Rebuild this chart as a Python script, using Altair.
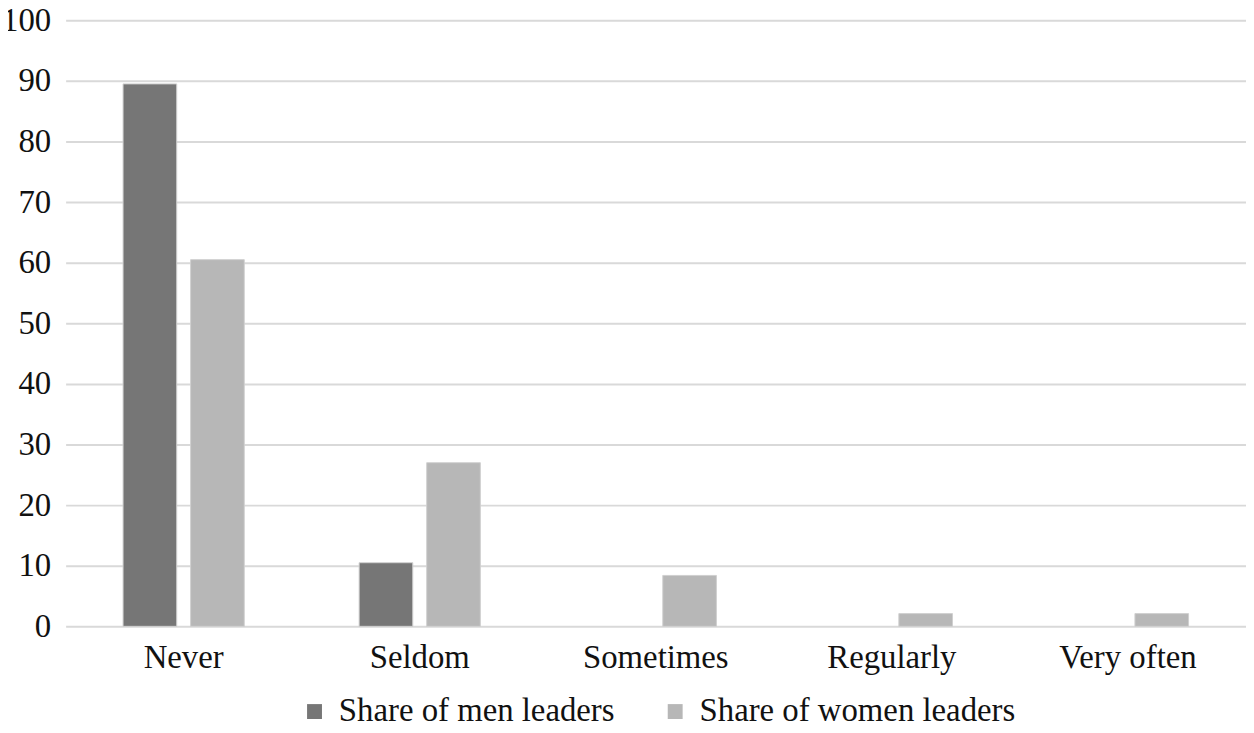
import altair as alt
import pandas as pd

categories = ["Never", "Seldom", "Sometimes", "Regularly", "Very often"]
men = [89.5, 10.5, 0, 0, 0]
women = [60.5, 27.0, 8.4, 2.1, 2.1]
series = ["Share of men leaders", "Share of women leaders"]
colors = ["#767676", "#b7b7b7"]

rows = []
for c, m, w in zip(categories, men, women):
    rows.append({"cat": c, "series": series[0], "value": m})
    rows.append({"cat": c, "series": series[1], "value": w})
df = pd.DataFrame(rows)

font = "Liberation Serif, Times New Roman, serif"
fs = 33

chart = alt.Chart(df).mark_bar(stroke="#d0d0d0", strokeWidth=1).encode(
    x=alt.X("cat:N", sort=categories, title=None,
            scale=alt.Scale(paddingInner=0, paddingOuter=0),
            axis=alt.Axis(labelAngle=0, labelFont=font, labelFontSize=fs,
                          labelColor="#111111", ticks=False, domain=False,
                          labelPadding=15)),
    xOffset=alt.XOffset("series:N", sort=series,
                        scale=alt.Scale(paddingInner=0.206, paddingOuter=0.85)),
    y=alt.Y("value:Q", title=None,
            scale=alt.Scale(domain=[0, 100], nice=False),
            axis=alt.Axis(values=list(range(0, 101, 10)), labelFont=font,
                          labelFontSize=fs, labelColor="#111111", ticks=False,
                          domain=False, labelPadding=15, gridColor="#d9d9d9",
                          gridWidth=2)),
    color=alt.Color("series:N", sort=series,
                    scale=alt.Scale(domain=series, range=colors),
                    legend=alt.Legend(title=None, orient="none", direction="horizontal",
                                      legendX=234, legendY=679,
                                      symbolType="square", symbolSize=225,
                                      symbolStrokeWidth=0, labelOffset=8,
                                      labelFont=font, labelFontSize=fs,
                                      labelColor="#111111", columnPadding=44,
                                      labelLimit=400)),
).transform_filter(
    alt.datum.value > 0
).properties(
    width=1188, height=610,
    padding={"left": 58, "top": 10, "right": 0, "bottom": 105},
    autosize=alt.AutoSizeParams(type="none"),
).configure_view(stroke=None)

chart.save("out.html", embed_options={"renderer": "svg", "actions": False})
